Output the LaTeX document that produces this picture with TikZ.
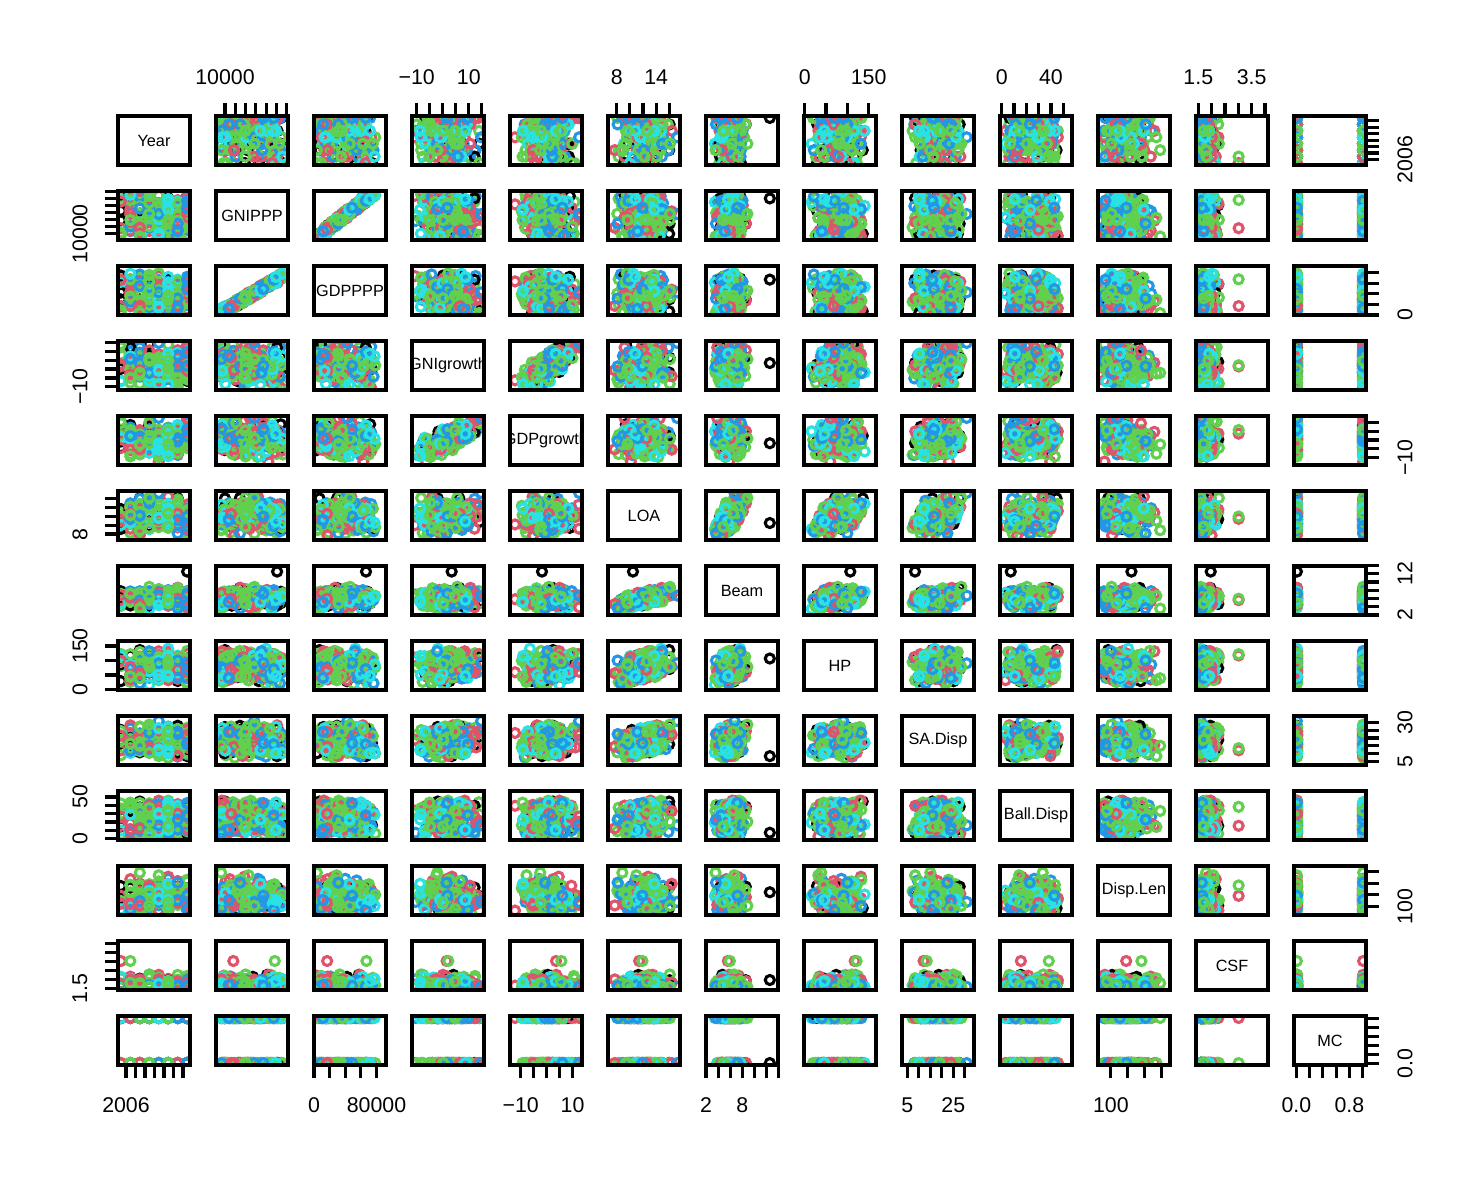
\documentclass[tikz,border=0pt]{standalone}
\usepackage{fontspec}
\setmainfont{Liberation Sans}
\usepackage{tikz}
\usetikzlibrary{calc}
\tikzset{
  panel/.style={draw, line width=2.6pt},
  tick/.style={line width=2.4pt},
  ticklab/.style={font=\fontsize{16}{16}\selectfont, inner sep=0pt},
  varlab/.style={font=\fontsize{12.2}{12.2}\selectfont, inner sep=0pt},
}
\newcommand\npts{220}
% one value per variable and row, kept in [0.04,0.96]
\newcommand\storev[2]{\pgfmathsetmacro\tmp{0.04+0.92*min(1,max(0,#2))}%
  \expandafter\xdef\csname pv#1-\k\endcsname{\tmp}}
% one ring drawn once per colour, then reused for every point
\newcommand\mkring[2]{\special{pdf:bxobj @#1 width 14bp height 7bp depth 7bp}%
  \special{pdf:content 2.3 w #2 RG 10.4 0 m 10.4 1.878 8.878 3.4 7 3.4 c
    5.122 3.4 3.6 1.878 3.6 0 c 3.6 -1.878 5.122 -3.4 7 -3.4 c
    8.878 -3.4 10.4 -1.878 10.4 0 c h S}%
  \special{pdf:exobj}}
% axes: number, first tick, tick step (panel fractions), ticks, labels
\newcommand\topaxis[5]{%
  \pgfmathsetmacro\ax{118+98*(#1-1)+72*#2}%
  \foreach \t in {1,...,#4}{\draw[tick] (\ax+72*#3*\t-72*#3,116) -- ++(0,-13);}%
  \foreach \t/\lab in {#5}{\node[ticklab] (top#1-\t) at (\ax+72*#3*\t,77) {\lab};}}
\newcommand\botaxis[5]{%
  \pgfmathsetmacro\ax{118+98*(#1-1)+72*#2}%
  \foreach \t in {1,...,#4}{\draw[tick] (\ax+72*#3*\t-72*#3,1065) -- ++(0,13);}%
  \foreach \t/\lab in {#5}{\node[ticklab] (bot#1-\t) at (\ax+72*#3*\t,1105) {\lab};}}
\newcommand\leftaxis[5]{%
  \pgfmathsetmacro\ay{116+75*(#1-1)+49-49*#2}%
  \foreach \t in {1,...,#4}{\draw[tick] (118,\ay-49*#3*\t+49*#3) -- ++(-13,0);}%
  \foreach \t/\lab in {#5}{\node[ticklab,rotate=90] (left#1-\t) at (80,\ay-49*#3*\t) {\lab};}}
\newcommand\rightaxis[5]{%
  \pgfmathsetmacro\ay{116+75*(#1-1)+49-49*#2}%
  \foreach \t in {1,...,#4}{\draw[tick] (1366,\ay-49*#3*\t+49*#3) -- ++(13,0);}%
  \foreach \t/\lab in {#5}{\node[ticklab,rotate=90] (right#1-\t) at (1405,\ay-49*#3*\t) {\lab};}}

\begin{document}
\pgfmathsetseed{2718}
\foreach \k in {1,...,\npts}{
  \pgfmathsetmacro\w{rnd}
  \pgfmathsetmacro\ng{(rnd+rnd+rnd)/3-0.5}
  \pgfmathsetmacro\lo{(rnd+rnd)/2}
  \storev{1}{floor(8*rnd^0.7)/7}
  \storev{2}{0.03+0.94*\w}
  \storev{3}{(rnd<0.008) ? 0.95 : (0.02+0.8*\w+0.16*(rnd-0.5))}
  \storev{4}{0.52+1.3*\ng+0.15*(rnd-0.5)}
  \storev{5}{0.55+0.9*\ng+0.6*((rnd+rnd)/2-0.5)}
  \storev{6}{0.95*\lo+0.1*rnd}
  \storev{7}{(rnd<0.012) ? 0.92 : (0.03+0.3*\lo+0.3*rnd)}
  \storev{8}{0.02+0.35*\lo+0.6*rnd}
  \storev{9}{0.05+0.3*\lo+0.6*rnd}
  \storev{10}{0.02+0.7*rnd+0.25*\lo*rnd}
  \storev{11}{0.02+0.5*rnd*rnd+0.45*rnd}
  \storev{12}{(rnd<0.004) ? 0.95 : ((rnd<0.006) ? 0.6 : (0.02+0.3*rnd*rnd))}
  \storev{13}{(rnd<0.45) ? 0 : 1}
  \pgfmathtruncatemacro\cg{floor(4.999*(0.3*\k/\npts+0.7*rnd))}
  \expandafter\xdef\csname pn-\k\endcsname{\cg}
}
\begin{tikzpicture}[x=0.75pt, y=-0.75pt]
  \useasboundingbox (0,0) rectangle (1484,1184);
  \node[inner sep=0pt] (rings) at (0,0) {\nullfont
    \mkring{pr0}{0 0 0}\mkring{pr1}{0.8745 0.3255 0.4196}\mkring{pr2}{0.3804 0.8157 0.3098}%
    \mkring{pr3}{0.1333 0.5922 0.902}\mkring{pr4}{0.1569 0.8863 0.898}};
  % scatter panels
  \foreach \i in {1,...,13}{
    \foreach \j in {1,...,13}{
      \pgfmathsetmacro\px{118+98*(\j-1)}
      \pgfmathsetmacro\py{116+75*(\i-1)}
      \ifnum\i=\j\else
        \begin{scope}
          \clip (\px,\py) rectangle ++(72,49);
          \pgftext[left,base,at={\pgfpointxy{\px}{\py+49}}]{\nullfont
            \foreach \k in {1,...,\npts}{%
              \pgfmathsetmacro\X{54*\csname pv\j-\k\endcsname-7.0273}%
              \pgfmathsetmacro\Y{36.75*\csname pv\i-\k\endcsname}%
              \kern\X pt\raise\Y pt\hbox{\special{pdf:uxobj @pr\csname pn-\k\endcsname}}\kern-\X pt}}
        \end{scope}
      \fi
      \draw[panel] (\px,\py) rectangle ++(72,49);
    }
  }
  % diagonal labels
  \foreach \i/\name in {1/Year,2/GNIPPP,3/GDPPPP,4/GNIgrowth,5/GDPgrowth,6/LOA,7/Beam,
      8/HP,9/SA.Disp,10/Ball.Disp,11/Disp.Len,12/CSF,13/MC}{
    \pgfmathsetmacro\px{118+98*(\i-1)}
    \pgfmathsetmacro\py{116+75*(\i-1)}
    \begin{scope}
      \clip (\px,\py) rectangle ++(72,49);
      \node[varlab] (var\i) at (\px+36,\py+24.5) {\name};
    \end{scope}
  }
  % axes
  \botaxis{1}{0.111}{0.132}{7}{0/2006}
  \rightaxis{1}{0.111}{0.132}{7}{0/2006}
  \topaxis{2}{0.125}{0.143}{7}{0/10000}
  \leftaxis{2}{0.125}{0.143}{7}{0/10000}
  \botaxis{3}{0}{0.217}{5}{0/0,4/80000}
  \rightaxis{3}{0}{0.217}{5}{0/0}
  \topaxis{4}{0.065}{0.181}{6}{0/−10,4/10}
  \leftaxis{4}{0.065}{0.181}{6}{0/−10}
  \botaxis{5}{0.149}{0.18}{5}{0/−10,4/10}
  \rightaxis{5}{0.149}{0.18}{5}{0/−10}
  \topaxis{6}{0.121}{0.183}{5}{0/8,3/14}
  \leftaxis{6}{0.121}{0.183}{5}{0/8}
  \botaxis{7}{0}{0.168}{7}{0/2,3/8}
  \rightaxis{7}{0}{0.168}{7}{0/2,5/12}
  \topaxis{8}{0.01}{0.296}{4}{0/0,3/150}
  \leftaxis{8}{0.01}{0.296}{4}{0/0,3/150}
  \botaxis{9}{0.072}{0.16}{6}{0/5,4/25}
  \rightaxis{9}{0.072}{0.16}{6}{0/5,5/30}
  \topaxis{10}{0.024}{0.171}{6}{0/0,4/40}
  \leftaxis{10}{0.024}{0.171}{6}{0/0,5/50}
  \botaxis{11}{0.178}{0.235}{4}{0/100}
  \rightaxis{11}{0.178}{0.235}{4}{0/100}
  \topaxis{12}{0.032}{0.185}{6}{0/1.5,4/3.5}
  \leftaxis{12}{0.032}{0.185}{6}{0/1.5}
  \botaxis{13}{0.033}{0.184}{6}{0/0.0,4/0.8}
  \rightaxis{13}{0.033}{0.184}{6}{0/0.0}
\end{tikzpicture}
\end{document}
